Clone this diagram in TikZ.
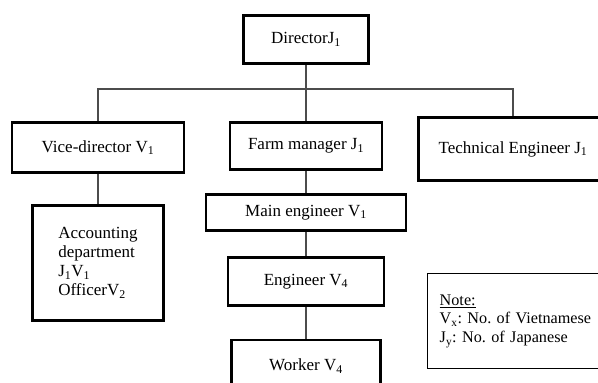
\documentclass[tikz,border=0pt]{standalone}
\usepackage{fontspec}
\setmainfont{Liberation Serif}
\frenchspacing
\begin{document}
\begin{tikzpicture}[x=1pt, y=-1pt,
    box/.style={draw, line width=2.8pt, inner sep=2pt, font=\fontsize{17}{19}\selectfont},
    notebox/.style={draw, line width=1.4pt, anchor=north west, inner xsep=12pt, align=left, font=\fontsize{16.2}{18.5}\selectfont},
    link/.style={black!70, line width=1.2pt}]
    \useasboundingbox (0,0) rectangle (598,383);
    \clip (0,0) rectangle (598,383);
    % Boxes
    \node[box, minimum width=125pt, minimum height=48pt] (director) at (306,39.5) {Director{J}\textsubscript{1}};
    \node[box, minimum width=172pt, minimum height=50pt] (vice) at (98,147.5) {Vice-director V\textsubscript{1}};
    \node[box, minimum width=152pt, minimum height=47pt] (farm) at (306,146) {Farm manager J\textsubscript{1}};
    \node[box, minimum width=189pt, minimum height=63pt] (tech) at (513,149) {Technical Engineer J\textsubscript{1}};
    \node[box, minimum width=200pt, minimum height=36pt] (main) at (306,212.5) {Main engineer V\textsubscript{1}};
    \node[box, minimum width=156pt, minimum height=48pt] (eng) at (306,281.5) {Engineer V\textsubscript{4}};
    \node[box, minimum width=149pt, minimum height=52pt] (worker) at (306,366) {Worker V\textsubscript{4}};
    \node[box, minimum width=131pt, minimum height=115pt, align=left] (acct) at (98,263)
        {Accounting\\department\\J\textsubscript{1}V\textsubscript{1}\\OfficerV\textsubscript{2}};
    % Note
    \node[notebox, minimum height=95pt, text width=200pt] (note) at (427,273)
        {\underline{Note:}\\V\textsubscript{x}: No. of Vietnamese\\J\textsubscript{y}: No. of Japanese};
    % Connectors
    \coordinate (bus) at (306,89);
    \draw[link] (director.south) -- (farm.north);
    \draw[link] (vice.north) |- (bus) -| (tech.north);
    \draw[link] (vice.south) -- (acct.north);
    \draw[link] (farm.south) -- (main.north);
    \draw[link] (main.south) -- (eng.north);
    \draw[link] (eng.south) -- (worker.north);
\end{tikzpicture}
\end{document}
